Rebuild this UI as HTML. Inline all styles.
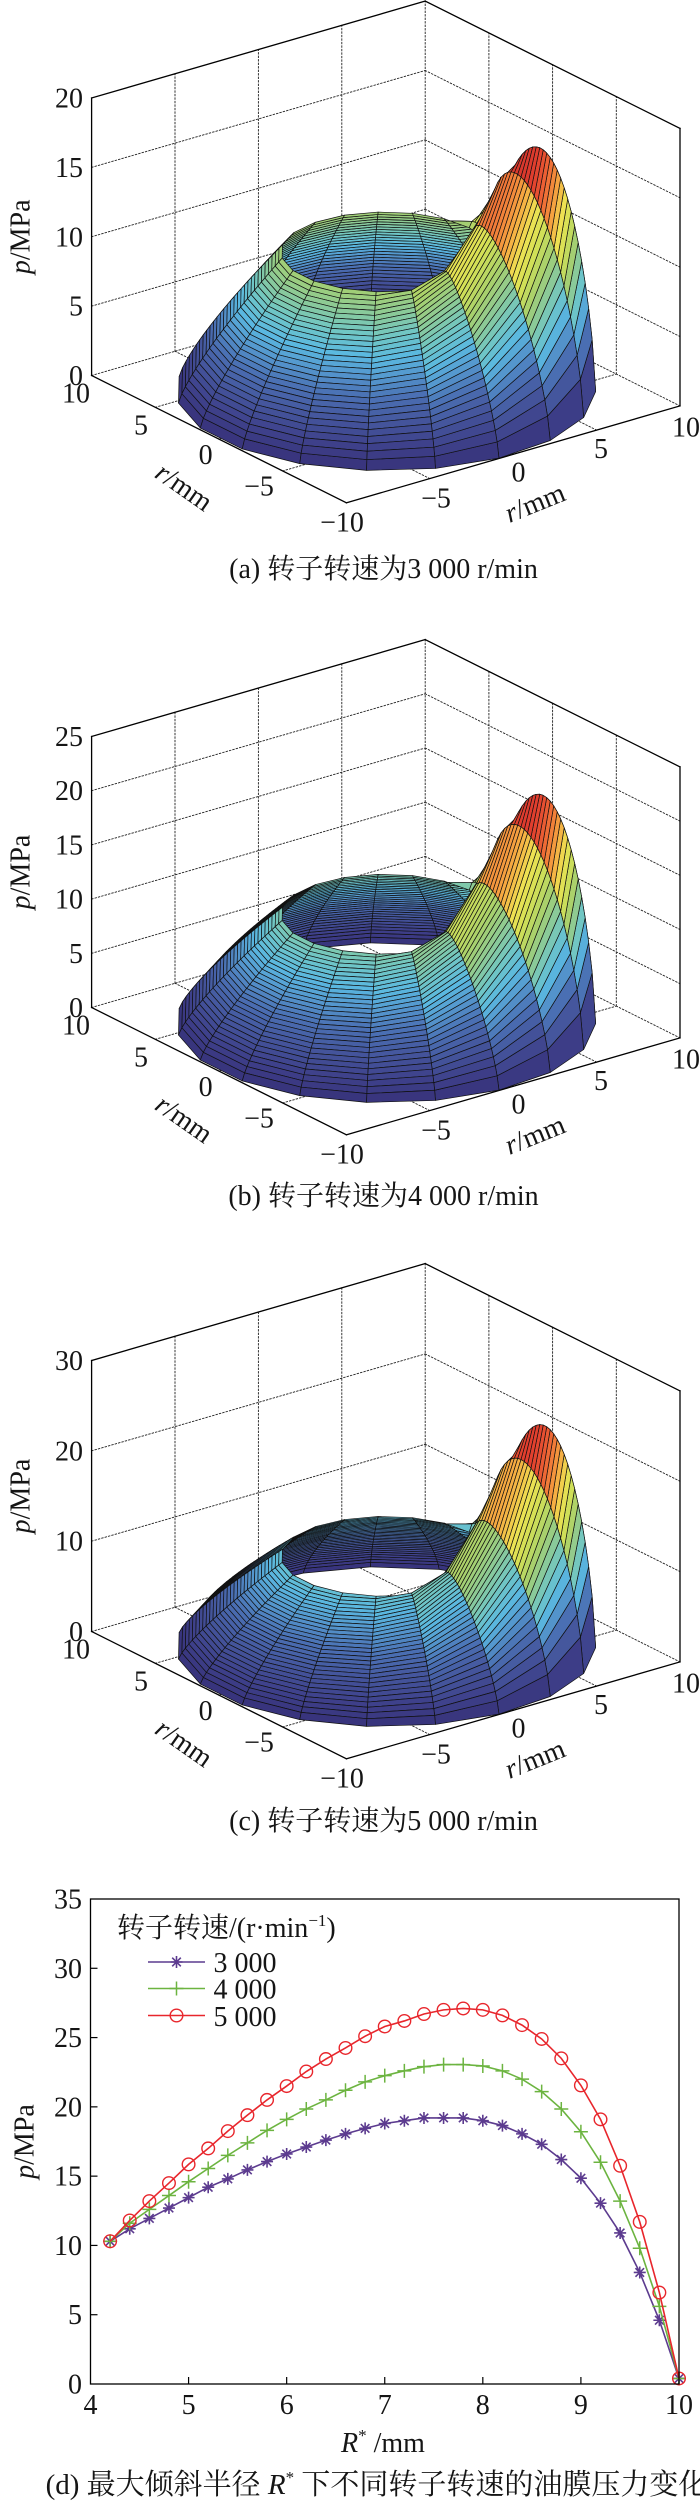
<!DOCTYPE html>
<html><head><meta charset="utf-8"><title>oil film pressure</title>
<style>
html,body{margin:0;padding:0;background:#fff;width:700px;height:2504px;overflow:hidden}
svg{display:block}
text{font-family:"Liberation Serif","Noto Serif CJK SC",serif;fill:#151515;font-size:28px}
.i{font-style:italic}
</style></head><body>
<svg id="root" xmlns="http://www.w3.org/2000/svg" width="700" height="2504" viewBox="0 0 700 2504">
<rect width="700" height="2504" fill="#fff"/>
<g id="pa"></g><g id="pb"></g><g id="pc"></g><g id="pd"></g>

<!-- ===== Panel (a) text ===== -->
<g text-anchor="end">
<text x="83" y="107.5">20</text><text x="83" y="177">15</text><text x="83" y="246.3">10</text><text x="83" y="315.6">5</text><text x="83" y="385">0</text>
</g>
<g text-anchor="middle">
<text x="76" y="402.5">10</text><text x="141" y="434.5">5</text><text x="205.6" y="464">0</text><text x="259" y="495.5">−5</text>
<text x="342" y="531.5">−10</text><text x="436" y="507.5">−5</text><text x="518.5" y="481.5">0</text><text x="601" y="458">5</text><text x="686" y="436.5">10</text>
<text transform="translate(184,487) rotate(35)" x="0" y="9"><tspan class="i">r</tspan>/mm</text>
<text transform="translate(535,503) rotate(-22)" x="0" y="9"><tspan class="i">r</tspan>/mm</text>
</g>
<text transform="translate(29.5,236.8) rotate(-90)" text-anchor="middle"><tspan class="i">p</tspan>/MPa</text>
<text x="383.5" y="578" text-anchor="middle">(a) 转子转速为3 000 r/min</text>

<!-- ===== Panel (b) text ===== -->
<g text-anchor="end">
<text x="83" y="746">25</text><text x="83" y="800.2">20</text><text x="83" y="854.4">15</text><text x="83" y="908.6">10</text><text x="83" y="962.8">5</text><text x="83" y="1017">0</text>
</g>
<g transform="translate(0,632)" text-anchor="middle">
<text x="76" y="402.5">10</text><text x="141" y="434.5">5</text><text x="205.6" y="464">0</text><text x="259" y="495.5">−5</text>
<text x="342" y="531.5">−10</text><text x="436" y="507.5">−5</text><text x="518.5" y="481.5">0</text><text x="601" y="458">5</text><text x="686" y="436.5">10</text>
<text transform="translate(184,487) rotate(35)" x="0" y="9"><tspan class="i">r</tspan>/mm</text>
<text transform="translate(535,503) rotate(-22)" x="0" y="9"><tspan class="i">r</tspan>/mm</text>
</g>
<text transform="translate(29.5,872) rotate(-90)" text-anchor="middle"><tspan class="i">p</tspan>/MPa</text>
<text x="383.5" y="1205" text-anchor="middle">(b) 转子转速为4 000 r/min</text>

<!-- ===== Panel (c) text ===== -->
<g text-anchor="end">
<text x="83" y="1370">30</text><text x="83" y="1460.3">20</text><text x="83" y="1550.7">10</text><text x="83" y="1641">0</text>
</g>
<g transform="translate(0,1256)" text-anchor="middle">
<text x="76" y="402.5">10</text><text x="141" y="434.5">5</text><text x="205.6" y="464">0</text><text x="259" y="495.5">−5</text>
<text x="342" y="531.5">−10</text><text x="436" y="507.5">−5</text><text x="518.5" y="481.5">0</text><text x="601" y="458">5</text><text x="686" y="436.5">10</text>
<text transform="translate(184,487) rotate(35)" x="0" y="9"><tspan class="i">r</tspan>/mm</text>
<text transform="translate(535,503) rotate(-22)" x="0" y="9"><tspan class="i">r</tspan>/mm</text>
</g>
<text transform="translate(29.5,1496) rotate(-90)" text-anchor="middle"><tspan class="i">p</tspan>/MPa</text>
<text x="383.5" y="1830" text-anchor="middle">(c) 转子转速为5 000 r/min</text>

<!-- ===== Panel (d) text ===== -->
<g text-anchor="end">
<text x="82" y="1908.5">35</text><text x="82" y="1977.8">30</text><text x="82" y="2047.1">25</text><text x="82" y="2116.4">20</text>
<text x="82" y="2185.6">15</text><text x="82" y="2254.9">10</text><text x="82" y="2324.2">5</text><text x="82" y="2393.5">0</text>
</g>
<g text-anchor="middle">
<text x="90.5" y="2414">4</text><text x="188.6" y="2414">5</text><text x="286.7" y="2414">6</text><text x="384.7" y="2414">7</text>
<text x="482.8" y="2414">8</text><text x="580.9" y="2414">9</text><text x="679" y="2414">10</text>
<text x="383" y="2452"><tspan class="i">R</tspan><tspan font-size="17" dy="-11">*</tspan><tspan dy="11"> /mm</tspan></text>
</g>
<text transform="translate(33.5,2141.5) rotate(-90)" text-anchor="middle"><tspan class="i">p</tspan>/MPa</text>
<text x="117" y="1937">转子转速/(r·min<tspan font-size="17" dy="-11">−1</tspan><tspan dy="11">)</tspan></text>
<text x="213.5" y="1972">3 000</text>
<text x="213.5" y="1998.5">4 000</text>
<text x="213.5" y="2026">5 000</text>
<text x="376.5" y="2494" text-anchor="middle" style="font-size:29px">(d) 最大倾斜半径 <tspan class="i">R</tspan><tspan font-size="17" dy="-11">*</tspan><tspan dy="11"> 下不同转子转速的油膜压力变化</tspan></text>
</svg>
<script>
(function(){
var NS='http://www.w3.org/2000/svg';
function el(p,t,a){var e=document.createElementNS(NS,t);for(var k in a)e.setAttribute(k,a[k]);p.appendChild(e);return e;}
var stops=[[0,[55,50,122]],[0.08,[62,64,138]],[0.16,[68,84,155]],[0.24,[74,110,178]],[0.31,[84,150,205]],
[0.37,[90,184,224]],[0.44,[112,198,196]],[0.51,[140,202,150]],[0.58,[168,208,108]],[0.66,[210,224,86]],
[0.73,[238,226,82]],[0.80,[246,172,66]],[0.88,[240,110,54]],[0.95,[226,62,46]],[1.0,[205,48,44]]];
function cmap(t){t=Math.max(0,Math.min(1,t));
 for(var k=1;k<stops.length;k++){if(t<=stops[k][0]){var a=stops[k-1],b=stops[k],f=(t-a[0])/(b[0]-a[0]);
  return 'rgb('+Math.round(a[1][0]+f*(b[1][0]-a[1][0]))+','+Math.round(a[1][1]+f*(b[1][1]-a[1][1]))+','+Math.round(a[1][2]+f*(b[1][2]-a[1][2]))+')';}}
 return 'rgb(205,48,44)';}
function panel(id,oy,zs,zmax,zstep,A){
 var g=document.getElementById(id),ox=385.8;
 function P(X,Y,z){return [ox+X*16.68-Y*12.74, oy-X*4.845-Y*6.365-z*zs];}
 function ln(a,b,dot){el(g,'line',{x1:a[0].toFixed(2),y1:a[1].toFixed(2),x2:b[0].toFixed(2),y2:b[1].toFixed(2),
   stroke:dot?'#222':'#000','stroke-width':dot?0.9:1.3,'stroke-dasharray':dot?'1.5 2':'none','stroke-linecap':'square'});}
 var v,z;
 for(v=-5;v<=10;v+=5) ln(P(v,10,0),P(v,10,zmax),true);
 for(v=-5;v<=5;v+=5) ln(P(10,v,0),P(10,v,zmax),true);
 for(z=0;z<zmax-0.01;z+=zstep){ln(P(-10,10,z),P(10,10,z),true);ln(P(10,10,z),P(10,-10,z),true);}
 for(v=-5;v<=5;v+=5){ln(P(v,-10,0),P(v,10,0),true);ln(P(-10,v,0),P(10,v,0),true);}
 ln(P(-10,10,0),P(-10,10,zmax));ln(P(-10,10,zmax),P(10,10,zmax));ln(P(10,10,zmax),P(10,-10,zmax));
 ln(P(10,-10,zmax),P(10,-10,0));ln(P(10,-10,0),P(-10,-10,0));ln(P(-10,-10,0),P(-10,10,0));
 var nR=30,nT=19,ri=5,ro=10,phi0=-38*Math.PI/180,V=[],pmax=0,i,j;
 for(i=0;i<=nR;i++){V.push([]);var s=i/nR,r=ri+(ro-ri)*s;
  var base=10*Math.pow(1-s,0.8);
  for(j=0;j<=nT;j++){var th=2*Math.PI*j/nT,d=th-phi0;d=Math.atan2(Math.sin(d),Math.cos(d));
   var dd=d*180/Math.PI, sgm=dd<0?45:25, gg=Math.exp(-(dd/sgm)*(dd/sgm));
   var ae=0.35+0.5*Math.exp(-(dd/18)*(dd/18)), ss=ae/(ae+0.7), hm=Math.pow(ss,ae)*Math.pow(1-ss,0.7);
   var h=(s>0&&s<1)?Math.pow(s,ae)*Math.pow(1-s,0.7)/hm:0;
   var p=base+A*h*gg,X=r*Math.cos(th),Y=r*Math.sin(th),q=P(X,Y,p);
   var c=0.925*(-0.602*X-0.799*Y)+0.381*(p*zs/19.42);
   V[i].push({x:q[0],y:q[1],p:p,c:c});if(p>pmax)pmax=p;}}
 var F=[];
 for(i=0;i<nR;i++)for(j=0;j<nT;j++){var a=V[i][j],b=V[i+1][j],c2=V[i+1][j+1],d2=V[i][j+1];
  F.push({pts:[a,b,c2,d2],c:(a.c+b.c+c2.c+d2.c)/4,p:(a.p+b.p+c2.p+d2.p)/4});}
 F.sort(function(u,w){return u.c-w.c;});
 var sg=el(g,'g',{stroke:'#111','stroke-width':0.7,'stroke-linejoin':'round'});
 F.forEach(function(f){el(sg,'polygon',{points:f.pts.map(function(q){return q.x.toFixed(2)+','+q.y.toFixed(2);}).join(' '),fill:cmap(f.p/pmax)});});
}
panel('pa',390.7,13.875,20,5,11.75);
panel('pb',1022.7,10.84,25,5,15.4);
panel('pc',1646.7,9.033,30,10,19.0);

// ---- panel d ----
var gd=document.getElementById('pd');
function xs(R){return 90.5+(R-4)*98.08;} function ys(p){return 2384-p*13.857;}
var k;
for(k=5;k<=9;k++) el(gd,'line',{x1:xs(k),y1:2384,x2:xs(k),y2:2377,stroke:'#000','stroke-width':1.2});
for(k=5;k<=30;k+=5) el(gd,'line',{x1:90.5,y1:ys(k),x2:97.5,y2:ys(k),stroke:'#000','stroke-width':1.2});
var p3=[10.3,11.2,11.95,12.7,13.45,14.2,14.8,15.45,16.05,16.6,17.1,17.6,18.05,18.45,18.8,19.0,19.2,19.2,19.2,19.0,18.65,18.05,17.3,16.2,14.85,13.05,10.9,8.05,4.6,0.4];
var p4=[10.3,11.6,12.6,13.6,14.6,15.55,16.5,17.4,18.3,19.1,19.85,20.5,21.2,21.8,22.25,22.6,22.9,23.05,23.05,22.95,22.6,22.0,21.1,19.85,18.2,16.0,13.2,9.8,5.6,0.4];
var p5=[10.3,11.8,13.2,14.5,15.85,17.0,18.25,19.4,20.5,21.5,22.55,23.45,24.25,25.1,25.8,26.2,26.7,27.0,27.1,27.0,26.6,25.9,24.9,23.5,21.55,19.1,15.75,11.7,6.6,0.4];
function marker(g,t,x,y,col){
 if(t==='o') el(g,'circle',{cx:x,cy:y,r:6.3,fill:'none',stroke:col,'stroke-width':1.4});
 else if(t==='+') el(g,'path',{d:'M'+(x-7)+' '+y+'H'+(x+7)+'M'+x+' '+(y-7)+'V'+(y+7),stroke:col,'stroke-width':1.5,fill:'none'});
 else el(g,'path',{d:'M'+(x-6)+' '+y+'H'+(x+6)+'M'+x+' '+(y-6)+'V'+(y+6)+'M'+(x-4.3)+' '+(y-4.3)+'L'+(x+4.3)+' '+(y+4.3)+'M'+(x-4.3)+' '+(y+4.3)+'L'+(x+4.3)+' '+(y-4.3),stroke:col,'stroke-width':1.6,fill:'none'});
}
function series(arr,col,t,ly){
 var pts=arr.map(function(p,n){return [xs(4.2+0.2*n),ys(p)];});
 el(gd,'polyline',{points:pts.map(function(q){return q[0].toFixed(2)+','+q[1].toFixed(2);}).join(' '),fill:'none',stroke:col,'stroke-width':1.6});
 pts.forEach(function(q){marker(gd,t,q[0],q[1],col);});
 el(gd,'line',{x1:148,y1:ly,x2:205,y2:ly,stroke:col,'stroke-width':1.6});
 marker(gd,t,176.5,ly,col);
}
series(p3,'#5c3b8f','*',1962);
series(p4,'#6cb440','+',1988.5);
series(p5,'#e8262c','o',2015.5);
el(gd,'rect',{x:90.5,y:1899,width:588.5,height:485,fill:'none',stroke:'#000','stroke-width':1.3});
})();
</script>
</body></html>
